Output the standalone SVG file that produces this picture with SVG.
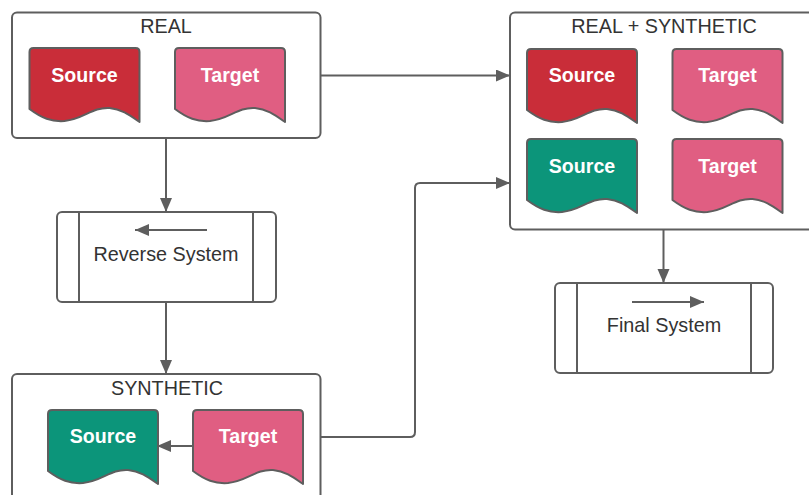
<svg xmlns="http://www.w3.org/2000/svg" xmlns:xlink="http://www.w3.org/1999/xlink" width="809" height="495" viewBox="0 0 809 495">
  <style>
    .frame { fill: #ffffff; stroke: #5e5e5e; stroke-width: 2; }
    .title { font-family: "Liberation Sans", Arial, sans-serif; font-size: 19.8px; fill: #333333; text-anchor: middle; }
    .doc-label { font-family: "Liberation Sans", Arial, sans-serif; font-size: 19.6px; font-weight: bold; fill: #ffffff; text-anchor: middle; }
    .doc { stroke: #5e5e5e; stroke-width: 2; stroke-linejoin: round; }
    .red { fill: #c92d39; }
    .pink { fill: #e05e82; }
    .teal { fill: #0c957a; }
    .link { fill: none; stroke: #5e5e5e; stroke-width: 2; }
  </style>
  <defs>
    <marker id="arrow" markerUnits="userSpaceOnUse" markerWidth="15" markerHeight="13" refX="14" refY="6" orient="auto">
      <path d="M0,0 L14,6 L0,12 Z" fill="#5e5e5e"/>
    </marker>
    <!-- document shape: rounded top, wavy bottom -->
    <path id="doc" d="M0,61 L0,4 Q0,0 4,0 L106,0 Q110,0 110,4 L110,74 C100,67 92,61 80,60 C62,59 55,71 35,73 C22,74 12,70 0,61 Z"/>
  </defs>

  <rect width="809" height="495" fill="#ffffff"/>

  <!-- REAL data set -->
  <g id="real">
    <rect class="frame" x="12" y="12.5" width="308.5" height="125.5" rx="5"/>
    <text class="title" x="166" y="33">REAL</text>
    <g id="real-source">
      <use xlink:href="#doc" href="#doc" x="29.5" y="48" class="doc red"/>
      <text class="doc-label" x="84.5" y="82">Source</text>
    </g>
    <g id="real-target">
      <use xlink:href="#doc" href="#doc" x="175" y="48" class="doc pink"/>
      <text class="doc-label" x="230" y="82">Target</text>
    </g>
  </g>

  <!-- REAL + SYNTHETIC data set -->
  <g id="combined">
    <rect class="frame" x="510" y="12.5" width="310" height="217" rx="5"/>
    <text class="title" x="664" y="33">REAL + SYNTHETIC</text>
    <g id="combined-source-real">
      <use xlink:href="#doc" href="#doc" x="527" y="49" class="doc red"/>
      <text class="doc-label" x="582" y="82">Source</text>
    </g>
    <g id="combined-target-real">
      <use xlink:href="#doc" href="#doc" x="672.5" y="49" class="doc pink"/>
      <text class="doc-label" x="727.5" y="82">Target</text>
    </g>
    <g id="combined-source-synth">
      <use xlink:href="#doc" href="#doc" x="527" y="139" class="doc teal"/>
      <text class="doc-label" x="582" y="173">Source</text>
    </g>
    <g id="combined-target-synth">
      <use xlink:href="#doc" href="#doc" x="672.5" y="139" class="doc pink"/>
      <text class="doc-label" x="727.5" y="173">Target</text>
    </g>
  </g>

  <!-- Reverse System process -->
  <g id="reverse-system">
    <rect class="frame" x="57" y="212" width="219" height="90" rx="5"/>
    <line class="link" x1="79" y1="212" x2="79" y2="302"/>
    <line class="link" x1="253" y1="212" x2="253" y2="302"/>
    <line class="link" x1="207" y1="230" x2="135" y2="230" marker-end="url(#arrow)"/>
    <text class="title" x="166" y="261">Reverse System</text>
  </g>

  <!-- Final System process -->
  <g id="final-system">
    <rect class="frame" x="555" y="283" width="218" height="90" rx="5"/>
    <line class="link" x1="577" y1="283" x2="577" y2="373"/>
    <line class="link" x1="751" y1="283" x2="751" y2="373"/>
    <line class="link" x1="632" y1="302" x2="704" y2="302" marker-end="url(#arrow)"/>
    <text class="title" x="664" y="332">Final System</text>
  </g>

  <!-- SYNTHETIC data set -->
  <g id="synthetic">
    <rect class="frame" x="12" y="374" width="308.5" height="140" rx="5"/>
    <text class="title" x="167" y="395">SYNTHETIC</text>
    <g id="synthetic-source">
      <use xlink:href="#doc" href="#doc" x="48" y="410" class="doc teal"/>
      <text class="doc-label" x="103" y="443">Source</text>
    </g>
    <g id="synthetic-target">
      <use xlink:href="#doc" href="#doc" x="193" y="410" class="doc pink"/>
      <text class="doc-label" x="248" y="443">Target</text>
    </g>
  </g>

  <!-- connectors, drawn on top of the containers -->
  <g id="connectors">
    <path class="link" d="M320.5,75.5 H510" marker-end="url(#arrow)"/>
    <path class="link" d="M320.5,437 H410 Q415,437 415,432 V188 Q415,183 420,183 H510" marker-end="url(#arrow)"/>
    <path class="link" d="M166,138 V212" marker-end="url(#arrow)"/>
    <path class="link" d="M166,302 V374" marker-end="url(#arrow)"/>
    <path class="link" d="M663.5,229.5 V283" marker-end="url(#arrow)"/>
    <path class="link" d="M193,446 H157" marker-end="url(#arrow)"/>
  </g>
</svg>
